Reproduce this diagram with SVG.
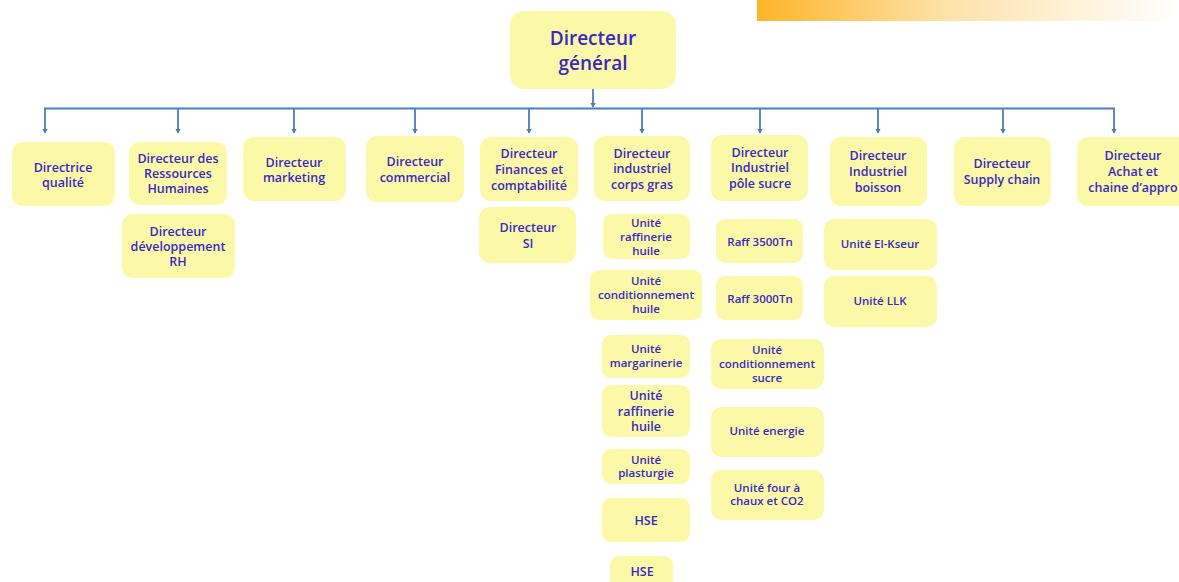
<svg xmlns="http://www.w3.org/2000/svg" width="1179" height="582" viewBox="0 0 1179 582">
<defs>
<linearGradient id="bar" x1="0" y1="0" x2="1" y2="0">
<stop offset="0" stop-color="#FDB428"/>
<stop offset="0.45" stop-color="#FDE2AA"/>
<stop offset="1" stop-color="#FFFFFF"/>
</linearGradient>
<marker id="arr" viewBox="0 0 5 6" refX="4.5" refY="3" markerWidth="5" markerHeight="6" markerUnits="userSpaceOnUse" orient="auto">
<path d="M0,0 L5,3 L0,6 Z" fill="#4A7EBB"/>
</marker>
</defs>
<style>
.n rect{fill:#FBF9A7;}
text{font-family:"Open Sans","Noto Sans","DejaVu Sans",sans-serif;font-weight:600;fill:#3729C2;text-anchor:middle;}
.t1{font-size:12.5px;}
.t0{font-size:19px;}
.t2{font-size:11.5px;}
.t3{font-size:12.5px;}
.c line{stroke:#4A7EBB;stroke-width:1.8;fill:none;}
</style>
<rect x="757" y="0" width="422" height="21" fill="url(#bar)"/>
<g class="c" id="connectors">
<line x1="593" y1="89" x2="593" y2="107" marker-end="url(#arr)"/>
<line x1="44" y1="108.5" x2="1115" y2="108.5"/>
<line x1="45" y1="108" x2="45" y2="133" marker-end="url(#arr)"/>
<line x1="178" y1="108" x2="178" y2="133" marker-end="url(#arr)"/>
<line x1="294" y1="108" x2="294" y2="133" marker-end="url(#arr)"/>
<line x1="415" y1="108" x2="415" y2="133" marker-end="url(#arr)"/>
<line x1="529" y1="108" x2="529" y2="133" marker-end="url(#arr)"/>
<line x1="642" y1="108" x2="642" y2="133" marker-end="url(#arr)"/>
<line x1="760" y1="108" x2="760" y2="133" marker-end="url(#arr)"/>
<line x1="878" y1="108" x2="878" y2="133" marker-end="url(#arr)"/>
<line x1="1003" y1="108" x2="1003" y2="133" marker-end="url(#arr)"/>
<line x1="1114" y1="108" x2="1114" y2="133" marker-end="url(#arr)"/>
</g>
<g class="n" id="dg"><rect x="510" y="11" width="166" height="78" rx="14"/><text class="t0" x="593" y="45">Directeur</text><text class="t0" x="593" y="70">général</text></g>
<g class="n" id="qualite"><rect x="12" y="142" width="103" height="64" rx="11"/><text class="t1" x="63" y="172">Directrice</text><text class="t1" x="63" y="187">qualité</text></g>
<g class="n" id="rh"><rect x="129" y="142" width="98" height="63" rx="11"/><text class="t1" x="178" y="163">Directeur des</text><text class="t1" x="178" y="178">Ressources</text><text class="t1" x="178" y="193">Humaines</text></g>
<g class="n" id="devrh"><rect x="122" y="214" width="113" height="64" rx="11"/><text class="t1" x="178" y="236">Directeur</text><text class="t1" x="178" y="251">développement</text><text class="t1" x="178" y="266">RH</text></g>
<g class="n" id="marketing"><rect x="243" y="137" width="103" height="64" rx="11"/><text class="t1" x="294" y="167">Directeur</text><text class="t1" x="294" y="182">marketing</text></g>
<g class="n" id="commercial"><rect x="366" y="136" width="98" height="66" rx="11"/><text class="t1" x="415" y="166">Directeur</text><text class="t1" x="415" y="182">commercial</text></g>
<g class="n" id="finances"><rect x="480" y="137" width="98" height="64" rx="11"/><text class="t1" x="529" y="158">Directeur</text><text class="t1" x="529" y="174">Finances et</text><text class="t1" x="529" y="190">comptabilité</text></g>
<g class="n" id="si"><rect x="479" y="207" width="97" height="56" rx="11"/><text class="t1" x="528" y="232">Directeur</text><text class="t1" x="528" y="248">SI</text></g>
<g class="n" id="corpsgras"><rect x="594" y="136" width="96" height="65" rx="11"/><text class="t1" x="642" y="158">Directeur</text><text class="t1" x="642" y="173">industriel</text><text class="t1" x="642" y="189">corps gras</text></g>
<g class="n" id="raf1"><rect x="603" y="214" width="87" height="45" rx="9"/><text class="t2" x="646" y="227">Unité</text><text class="t2" x="646" y="241">raffinerie</text><text class="t2" x="646" y="255">huile</text></g>
<g class="n" id="condhuile"><rect x="590" y="270" width="112" height="50" rx="9"/><text class="t2" x="646" y="285">Unité</text><text class="t2" x="646" y="299">conditionnement</text><text class="t2" x="646" y="313">huile</text></g>
<g class="n" id="marg"><rect x="602" y="335" width="88" height="43" rx="9"/><text class="t2" x="646" y="353">Unité</text><text class="t2" x="646" y="367">margarinerie</text></g>
<g class="n" id="raf2"><rect x="602" y="385" width="88" height="52" rx="9"/><text class="t3" x="646" y="400">Unité</text><text class="t3" x="646" y="416">raffinerie</text><text class="t3" x="646" y="431">huile</text></g>
<g class="n" id="plast"><rect x="602" y="449" width="88" height="35" rx="9"/><text class="t2" x="646" y="464">Unité</text><text class="t2" x="646" y="477">plasturgie</text></g>
<g class="n" id="hse1"><rect x="602" y="498" width="88" height="44" rx="9"/><text class="t3" x="646" y="525">HSE</text></g>
<g class="n" id="hse2"><rect x="610" y="556" width="63" height="34" rx="9"/><text class="t3" x="642" y="576">HSE</text></g>
<g class="n" id="sucre"><rect x="711" y="135" width="97" height="66" rx="11"/><text class="t1" x="760" y="157">Directeur</text><text class="t1" x="760" y="172">Industriel</text><text class="t1" x="760" y="188">pôle sucre</text></g>
<g class="n" id="raff3500"><rect x="716" y="219" width="87" height="44" rx="9"/><text class="t2" x="760" y="246">Raff 3500Tn</text></g>
<g class="n" id="raff3000"><rect x="716" y="276" width="87" height="44" rx="9"/><text class="t2" x="760" y="303">Raff 3000Tn</text></g>
<g class="n" id="condsucre"><rect x="711" y="339" width="113" height="50" rx="10"/><text class="t2" x="767" y="354">Unité</text><text class="t2" x="767" y="368">conditionnement</text><text class="t2" x="767" y="382">sucre</text></g>
<g class="n" id="energie"><rect x="711" y="407" width="113" height="50" rx="10"/><text class="t2" x="767" y="435">Unité energie</text></g>
<g class="n" id="four"><rect x="711" y="470" width="113" height="50" rx="10"/><text class="t2" x="767" y="492">Unité four à</text><text class="t2" x="767" y="505">chaux et CO2</text></g>
<g class="n" id="boisson"><rect x="830" y="137" width="97" height="69" rx="11"/><text class="t1" x="878" y="160">Directeur</text><text class="t1" x="878" y="176">Industriel</text><text class="t1" x="878" y="192">boisson</text></g>
<g class="n" id="elkseur"><rect x="824" y="219" width="113" height="51" rx="10"/><text class="t2" x="880" y="248">Unité El-Kseur</text></g>
<g class="n" id="llk"><rect x="824" y="276" width="113" height="51" rx="10"/><text class="t2" x="880" y="305">Unité LLK</text></g>
<g class="n" id="supply"><rect x="954" y="137" width="97" height="69" rx="11"/><text class="t1" x="1002" y="168">Directeur</text><text class="t1" x="1002" y="184">Supply chain</text></g>
<g class="n" id="achat"><rect x="1077" y="137" width="112" height="69" rx="11"/><text class="t1" x="1133" y="160">Directeur</text><text class="t1" x="1133" y="176">Achat et</text><text class="t1" x="1133" y="192">chaine d’appro</text></g>
</svg>
